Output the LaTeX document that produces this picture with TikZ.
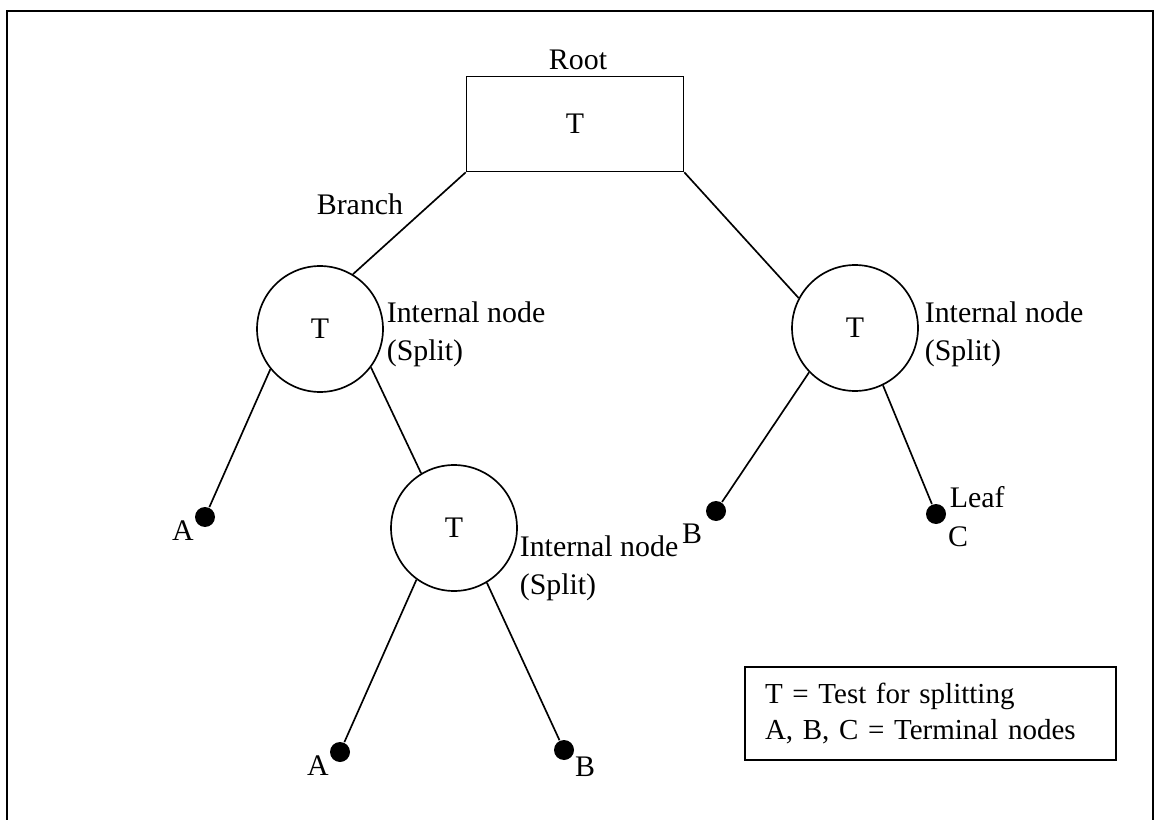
\documentclass[tikz,border=0pt]{standalone}
\usepackage{fontspec}
\setmainfont{Liberation Serif}
\begin{document}
\begin{tikzpicture}[x=0.02cm, y=-0.02cm, line width=0.95pt,
  txt/.style={inner sep=0pt, font=\fontsize{17}{21.5}\selectfont},
  test/.style={txt, draw, circle, minimum size=2.52cm},
  leaf/.style={fill, circle, minimum size=0.4cm, inner sep=0pt},
  note/.style={txt, align=left, anchor=west}]
\useasboundingbox (0,0) rectangle (1155,820);
\draw[line width=1.1pt] (7,820) -- (7,11) -- (1153,11) -- (1153,820);

% tests
\node[txt, draw, minimum width=4.34cm, minimum height=1.9cm] (root) at (575,124) {T};
\node[txt] (rootlbl) at (578,60) {Root};
\node[txt] (branch) at (360,204) {Branch};
\node[test] (lt) at (320,329) {T};
\node[test] (rt) at (855,328) {T};
\node[test] (lo) at (454,528) {T};
\node[note] (ltlbl) at (386,334) {Internal node\\(Split)};
\node[note] (rtlbl) at (924,334) {Internal node\\(Split)};
\node[note] (lolbl) at (519,568) {Internal node\\(Split)};

% terminal nodes
\node[leaf] (a1) at (205,517) {};
\node[leaf] (b1) at (716,511) {};
\node[leaf] (c1) at (936,514) {};
\node[leaf] (a2) at (340,752) {};
\node[leaf] (b2) at (564,750) {};
\node[txt] (a1lbl) at (183,531) {A};
\node[txt] (b1lbl) at (692,534) {B};
\node[txt] (c1lbl) at (958,537) {C};
\node[note] (leaflbl) at (949,497) {Leaf};
\node[txt] (a2lbl) at (318,766) {A};
\node[txt] (b2lbl) at (585,767) {B};

% branches
\draw (root.south west) -- (lt.59);
\draw (root.south east) -- (rt.152);
\draw (lt.219) -- (a1);
\draw (lt.323) -- (lo.121);
\draw (rt.224) -- (b1);
\draw (rt.296) -- (c1);
\draw (lo.234) -- (a2);
\draw (lo.301) -- (b2);

% key
\node[draw, align=left, font=\fontsize{16.5}{20}\selectfont, text width=6.62cm,
  inner xsep=0.4cm, minimum height=1.86cm] (key) at (930.5,713.5)
  {T = Test for splitting\\A, B, C = Terminal nodes};
\end{tikzpicture}
\end{document}
